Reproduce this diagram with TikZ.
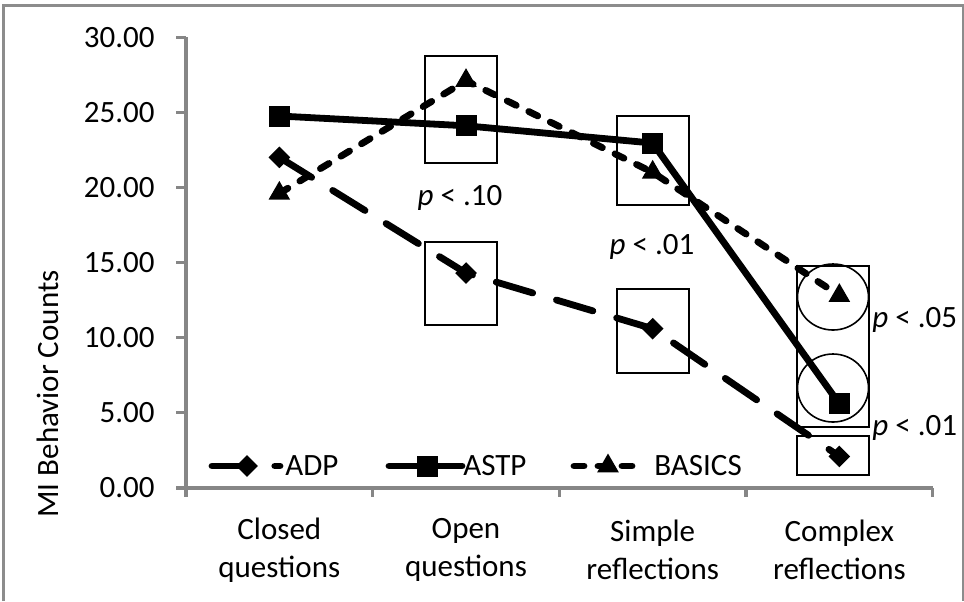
\documentclass[tikz,border=0pt]{standalone}
\usepackage{fontspec}
\setmainfont{Carlito}
\usetikzlibrary{shapes.geometric}

\definecolor{axisgray}{RGB}{134,134,134}
\definecolor{framegray}{RGB}{140,140,140}
\tikzset{
	axisline/.style={draw=axisgray,line width=1.6pt},
	boxline/.style={draw=black,line width=0.8pt},
	astpline/.style={line width=3.4pt,line join=round},
	adpline/.style={line width=3.4pt,line cap=round,dash pattern=on 19pt off 12.4pt},
	basline/.style={line width=3.4pt,line cap=round,dash pattern=on 5pt off 7pt},
	sqmark/.style={rectangle,fill=black,minimum size=10.5pt,inner sep=0pt},
	dimark/.style={diamond,fill=black,minimum width=11pt,minimum height=11pt,inner sep=0pt},
	trimark/.style={regular polygon,regular polygon sides=3,fill=black,minimum size=12.5pt,inner sep=0pt},
	txt/.style={font=\fontsize{15.5}{19}\selectfont,inner sep=0pt},
}

\begin{document}
\begin{tikzpicture}[x=0.5pt,y=-0.5pt]
	\useasboundingbox (0,0) rectangle (964,601);
	\draw[framegray,line width=1.5pt] (3,601)--(3,5)--(963,5)--(963,601);
	% axes
	\draw[axisline] (186,37)--(186,488)--(933,488);
	\foreach \v in {0,5,...,30} {
		\draw[axisline] (176,{488-15.03*\v})--(186,{488-15.03*\v});
		\node[txt,anchor=east] (ytick\v) at (155,{488-15.03*\v}) {\v.00};
	}
	\foreach \k in {0,...,4}
		\draw[axisline] ({186+186.67*\k},488)--({186+186.67*\k},497);
	\node[txt,rotate=90] (ytitle) at (48,394) {MI Behavior Counts};
	\foreach \i/\t in {1/{Closed\\questions},2/{Open\\questions},3/{Simple\\reflections},4/{Complex\\reflections}}
		\node[txt,align=center] (cat\i) at ({186+186.67*(\i-0.5)},550) {\t};
	% data
	\foreach \i/\a/\b/\c in {1/22.0/24.75/19.6,2/14.3/24.1/27.1,3/10.6/22.95/21.0,4/2.1/5.6/12.8} {
		\coordinate (adp\i) at ({186+186.67*(\i-0.5)},{488-15.03*\a});
		\coordinate (astp\i) at ({186+186.67*(\i-0.5)},{488-15.03*\b});
		\coordinate (bas\i) at ({186+186.67*(\i-0.5)},{488-15.03*\c});
	}
	% significance boxes
	\draw[boxline] (425,56) rectangle (497,163);
	\draw[boxline] (425,242) rectangle (497,325);
	\draw[boxline] (617,116) rectangle (689,205);
	\draw[boxline] (617,289) rectangle (689,373);
	\draw[boxline] (797,266) rectangle (869,427);
	\draw[boxline] (797,436) rectangle (869,475);
	\draw[boxline] (833,297) ellipse (35.5 and 33);
	\draw[boxline] (833,388) ellipse (35.5 and 34);
	\draw[adpline] (adp1)--(adp2)--(adp3)--(adp4);
	\draw[astpline] (astp1)--(astp2)--(astp3)--(astp4);
	\draw[basline] (bas1)--(bas2)--(bas3)--(bas4);
	\foreach \i in {1,...,4} {
		\node[dimark] (adpm\i) at (adp\i) {};
		\node[sqmark] (astpm\i) at (astp\i) {};
		\node[trimark] (basm\i) at (bas\i) {};
	}
	% p values
	\node[txt] (p1) at (460,198) {\textit{p} < .10};
	\node[txt] (p2) at (652,247) {\textit{p} < .01};
	\node[txt,anchor=west] (p3) at (872,320) {\textit{p} < .05};
	\node[txt,anchor=west] (p4) at (872,428) {\textit{p} < .01};
	% legend
	\coordinate (lgadpa) at (212,466);
	\coordinate (lgadpb) at (280,466);
	\coordinate (lgastpa) at (389,466);
	\coordinate (lgastpb) at (462,466);
	\coordinate (lgbasa) at (574,466);
	\coordinate (lgbasb) at (640,466);
	\draw[adpline] (lgadpa)--(lgadpb);
	\draw[astpline,line cap=round] (lgastpa)--(lgastpb);
	\draw[basline] (lgbasa)--(lgbasb);
	\node[dimark] (lgadpm) at (247,466) {};
	\node[sqmark] (lgastpm) at (427,466) {};
	\node[trimark] (lgbasm) at (608,466) {};
	\node[txt,anchor=west] (lgadp) at (285,466) {ADP};
	\node[txt,anchor=west] (lgastp) at (463,466) {ASTP};
	\node[txt,anchor=west] (lgbas) at (654,466) {BASICS};
\end{tikzpicture}
\end{document}
